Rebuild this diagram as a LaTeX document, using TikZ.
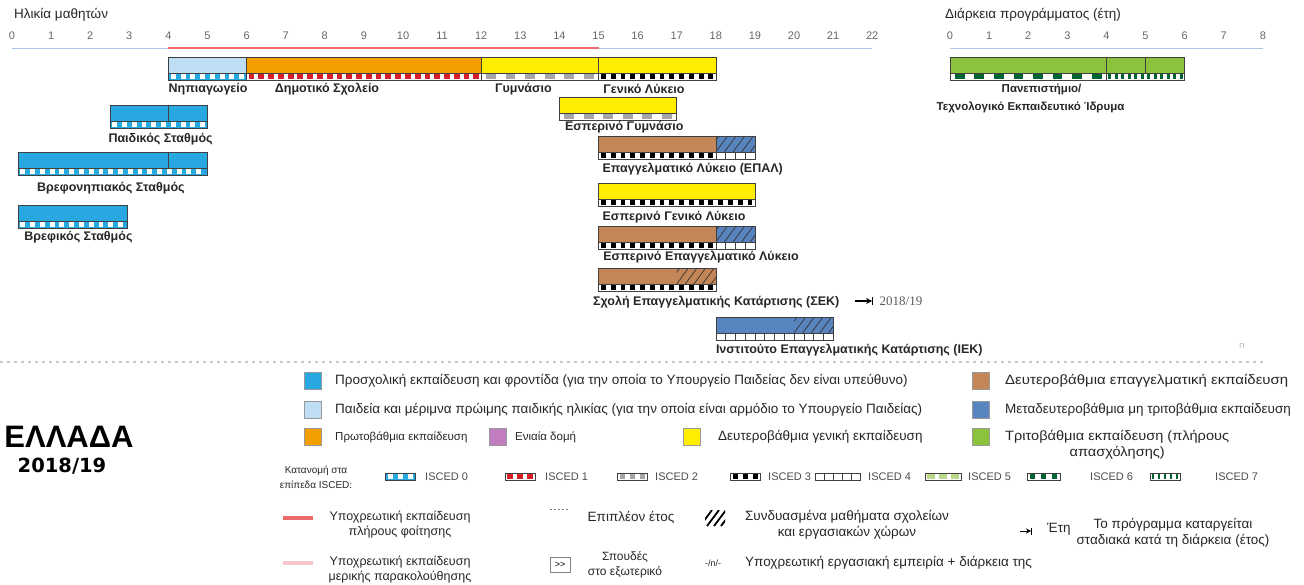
\documentclass[tikz,border=0pt]{standalone}
\usepackage{fontspec}
\setmainfont{Liberation Sans}
\newfontfamily\numfont{Liberation Serif}
\newfontfamily\yearfont{DejaVu Sans}
\usetikzlibrary{arrows.meta}
\definecolor{preblue}{RGB}{40,168,224}
\definecolor{ecblue}{RGB}{190,222,244}
\definecolor{primorange}{RGB}{245,158,0}
\definecolor{secyellow}{RGB}{255,238,0}
\definecolor{vocbrown}{RGB}{196,134,88}
\definecolor{postblue}{RGB}{88,132,192}
\definecolor{tergreen}{RGB}{140,194,60}
\definecolor{unipurple}{RGB}{194,124,192}
\definecolor{isred}{RGB}{214,30,40}
\definecolor{isgreen}{RGB}{0,100,50}
\definecolor{compred}{RGB}{236,106,106}
\definecolor{comppink}{RGB}{246,200,206}
\definecolor{axisblue}{RGB}{170,198,230}
% strip of ISCED blocks: bg, fg, from, to, y, period, fraction
\newcommand\iscedstrip[7]{%
  \fill[#1] (#3,#5) rectangle (#4,#5+7);
  \pgfmathtruncatemacro\nblk{round((#4-#3)/#6)-1}
  \foreach \k in {0,...,\nblk}
    \fill[#2] ({#3+(\k+(1-#7)/2)*#6},#5+1.3) rectangle ++({#7*#6},4.4);
  \draw[barline] (#3,#5) rectangle (#4,#5+7);
}
% hatching: from, to, ytop
\newcommand\hatchbox[3]{%
  \begin{scope}
  \clip (#1,#3) rectangle (#2,#3+16);
  \foreach \k in {-2,...,6}
    \draw[black!80,line width=0.7pt] ({#1+\k*0.22},#3+16) -- ++(0.3,-16);
  \end{scope}
}

\begin{document}
\begin{tikzpicture}[x=1pt,y=-1pt,
  barline/.style={draw=black!75,line width=0.5pt},
  lbl/.style={font=\bfseries\fontsize{12.5}{18}\selectfont,text=black!85,inner sep=0pt,align=center},
  legtxt/.style={font=\fontsize{13.5}{16}\selectfont,text=black!85,inner sep=0pt,align=center},
  smalltxt/.style={legtxt,font=\fontsize{12.5}{15}\selectfont},
  widetxt/.style={legtxt,font=\fontsize{13.5}{16}\selectfont\addfontfeatures{FakeStretch=#1}},
  tick/.style={font=\fontsize{11}{12}\selectfont,text=black!60,inner sep=0pt},
  isctxt/.style={font=\fontsize{11}{12}\selectfont,text=black!70,inner sep=0pt,anchor=west},
  swatch/.style={draw=black!40,line width=0.4pt,minimum size=17pt,inner sep=0pt}]
\useasboundingbox (0,0) rectangle (1304,585);

% age of pupils
\node[legtxt,anchor=west] (agettl) at (14,15) {Ηλικία μαθητών};
\begin{scope}[xshift=12pt,x=39.1pt]
\foreach \a in {0,...,22} \node[tick] (age\a) at (\a,36) {\a};
\draw[axisblue,line width=1pt] (0,49) -- (22,49);
\draw[compred,line width=2.8pt] (4,48) -- (15,48);

% main row
\fill[ecblue] (4,57) rectangle (6,73);
\fill[primorange] (6,57) rectangle (12,73);
\fill[secyellow] (12,57) rectangle (18,73);
\draw[barline] (4,57) rectangle (18,73) (6,57) -- (6,73) (12,57) -- (12,73) (15,57) -- (15,73);
\iscedstrip{preblue}{white}{4}{6}{73}{0.25}{0.5}
\iscedstrip{white}{isred}{6}{12}{73}{0.25}{0.6}
\iscedstrip{white}{black!35}{12}{15}{73}{0.5}{0.5}
\iscedstrip{white}{black}{15}{18}{73}{0.25}{0.5}
\node[lbl,anchor=west] (nip) at (4,89) {Νηπιαγωγείο};
\node[lbl,anchor=west] (dim) at (6.72,89) {Δημοτικό Σχολείο};
\node[lbl,anchor=west] (gym) at (12.35,89) {Γυμνάσιο};
\node[lbl,anchor=west] (lyk) at (15.12,89) {Γενικό Λύκειο};

% preschool
\fill[preblue] (2.5,105) rectangle (5,121);
\draw[barline] (2.5,105) rectangle (5,121) (4,105) -- (4,121);
\iscedstrip{preblue}{white}{2.5}{5}{121}{0.25}{0.5}
\node[lbl] (paid) at (3.8,139) {Παιδικός Σταθμός};
\fill[preblue] (0.15,152) rectangle (5,168);
\draw[barline] (0.15,152) rectangle (5,168) (4,152) -- (4,168);
\iscedstrip{preblue}{white}{0.15}{5}{168}{0.25}{0.5}
\node[lbl] (vrnip) at (2.53,188) {Βρεφονηπιακός Σταθμός};
\fill[preblue] (0.15,205) rectangle (2.95,221);
\draw[barline] (0.15,205) rectangle (2.95,221);
\iscedstrip{preblue}{white}{0.15}{2.95}{221}{0.25}{0.5}
\node[lbl] (vref) at (1.7,237) {Βρεφικός Σταθμός};

% evening gymnasio
\fill[secyellow] (14,97) rectangle (17,113);
\draw[barline] (14,97) rectangle (17,113);
\iscedstrip{white}{black!35}{14}{17}{113}{0.5}{0.5}
\node[lbl,anchor=west] (egym) at (14.14,127) {Εσπερινό Γυμνάσιο};

% EPAL
\fill[vocbrown] (15,136) rectangle (18,152);
\fill[postblue] (18,136) rectangle (19,152);
\hatchbox{18}{19}{136}
\draw[barline] (15,136) rectangle (19,152) (18,136) -- (18,152);
\iscedstrip{white}{black}{15}{18}{152}{0.25}{0.5}
\iscedstrip{white}{white}{18}{19}{152}{0.25}{0.5}
\foreach \k in {1,2,3} \draw[barline] (18+\k*0.25,152) -- (18+\k*0.25,159);
\node[lbl,anchor=west] (epal) at (15.1,169) {Επαγγελματικό Λύκειο (ΕΠΑΛ)};

% evening lykeio
\fill[secyellow] (15,183) rectangle (19,199);
\draw[barline] (15,183) rectangle (19,199);
\iscedstrip{white}{black}{15}{19}{199}{0.25}{0.5}
\node[lbl,anchor=west] (elyk) at (15.1,217) {Εσπερινό Γενικό Λύκειο};

% evening EPAL
\fill[vocbrown] (15,226) rectangle (18,242);
\fill[postblue] (18,226) rectangle (19,242);
\hatchbox{18}{19}{226}
\draw[barline] (15,226) rectangle (19,242) (18,226) -- (18,242);
\iscedstrip{white}{black}{15}{18}{242}{0.25}{0.5}
\iscedstrip{white}{white}{18}{19}{242}{0.25}{0.5}
\foreach \k in {1,2,3} \draw[barline] (18+\k*0.25,242) -- (18+\k*0.25,249);
\node[lbl,anchor=west] (eepal) at (15.12,257) {Εσπερινό Επαγγελματικό Λύκειο};

% SEK
\fill[vocbrown] (15,268) rectangle (18,284);
\hatchbox{17}{18}{268}
\draw[barline] (15,268) rectangle (18,284);
\iscedstrip{white}{black}{15}{18}{284}{0.25}{0.5}
\node[lbl,anchor=west] (sek) at (14.86,302) {Σχολή Επαγγελματικής Κατάρτισης (ΣΕΚ)};
\coordinate (abol1) at (21.56,301);
\coordinate (abol2) at (22,301);
\draw[-{Stealth[length=6pt,width=6pt]},line width=1.2pt] (abol1) -- (abol2);
\draw[line width=1pt] ([yshift=-4pt]abol2) -- ([yshift=4pt]abol2);
\node[font=\numfont\fontsize{13}{14}\selectfont,text=black!65,anchor=west] (abolyr) at (22.1,301) {2018/19};

% IEK
\fill[postblue] (18,317) rectangle (21,333);
\hatchbox{20}{21}{317}
\draw[barline] (18,317) rectangle (21,333);
\iscedstrip{white}{white}{18}{21}{333}{0.25}{0.5}
\foreach \k in {1,...,11} \draw[barline] (18+\k*0.25,333) -- (18+\k*0.25,340);
\node[lbl,anchor=west] (iek) at (18,350) {Ινστιτούτο Επαγγελματικής Κατάρτισης (ΙΕΚ)};
\end{scope}

% programme duration
\node[legtxt,anchor=west] (durttl) at (945,15) {Διάρκεια προγράμματος (έτη)};
\begin{scope}[xshift=950pt,x=39.1pt]
\foreach \a in {0,...,8} \node[tick] (dur\a) at (\a,36) {\a};
\draw[axisblue,line width=1pt] (0,49) -- (8,49);
\fill[tergreen] (0,57) rectangle (6,73);
\draw[barline] (0,57) rectangle (6,73) (4,57) -- (4,73) (5,57) -- (5,73);
\iscedstrip{white}{isgreen}{0}{4}{73}{0.5}{0.5}
\iscedstrip{white}{isgreen}{4}{6}{73}{0.1667}{0.45}
\node[lbl,font=\bfseries\fontsize{11.5}{18}\selectfont] (uni) at (2.06,98) {\hspace*{22pt}Πανεπιστήμιο/\\Τεχνολογικό Εκπαιδευτικό Ίδρυμα};
\end{scope}
\node[font=\fontsize{7}{8}\selectfont,text=black!35] (mark) at (1242,346) {Π};

\draw[black!22,line width=1.2pt,dash pattern=on 3pt off 4pt] (0,362) -- (1265,362);

% legend
\node[swatch,fill=preblue] (swpre) at (313,381) {};
\node[legtxt,anchor=west] (txpre) at (335,381) {Προσχολική εκπαίδευση και φροντίδα (για την οποία το Υπουργείο Παιδείας δεν είναι υπεύθυνο)};
\node[swatch,fill=ecblue] (swec) at (313,410) {};
\node[legtxt,anchor=west] (txec) at (335,410) {Παιδεία και μέριμνα πρώιμης παιδικής ηλικίας (για την οποία είναι αρμόδιο το Υπουργείο Παιδείας)};
\node[swatch,fill=primorange] (swprim) at (313,437) {};
\node[legtxt,font=\fontsize{11.5}{14}\selectfont,anchor=west] (txprim) at (335,437) {Πρωτοβάθμια εκπαίδευση};
\node[swatch,fill=unipurple] (swuni) at (498,437) {};
\node[legtxt,font=\fontsize{11.5}{14}\selectfont,anchor=west] (txuni) at (515,437) {Ενιαία δομή};
\node[swatch,fill=secyellow] (swsec) at (692,437) {};
\node[legtxt,anchor=west] (txsec) at (718,437) {Δευτεροβάθμια γενική εκπαίδευση};
\node[swatch,fill=vocbrown] (swvoc) at (981,381) {};
\node[widetxt=1.11,anchor=west] (txvoc) at (1005,381) {Δευτεροβάθμια επαγγελματική εκπαίδευση};
\node[swatch,fill=postblue] (swpost) at (981,410) {};
\node[legtxt,anchor=west] (txpost) at (1005,410) {Μεταδευτεροβάθμια μη τριτοβάθμια εκπαίδευση};
\node[swatch,fill=tergreen] (swter) at (981,437) {};
\node[widetxt=1.08,anchor=north west] (txter) at (1005,430) {Τριτοβάθμια εκπαίδευση (πλήρους\\απασχόλησης)};

\node[font=\bfseries\fontsize{31}{31}\selectfont] (country) at (69,437) {ΕΛΛΑΔΑ};
\node[font=\yearfont\bfseries\fontsize{19.5}{20}\selectfont] (year) at (62,466) {2018/19};

% ISCED levels
\node[legtxt,font=\fontsize{10}{15}\selectfont] (isctl) at (316,477) {Κατανομή στα\\επίπεδα ISCED:};
\begin{scope}[shift={(385,473)},x=10pt]
\iscedstrip{preblue}{white}{0}{3}{0}{1}{0.5}
\end{scope}
\node[isctxt] (isc0) at (425,477) {ISCED 0};
\begin{scope}[shift={(505,473)},x=10pt]
\iscedstrip{white}{isred}{0}{3}{0}{1}{0.6}
\end{scope}
\node[isctxt] (isc1) at (545,477) {ISCED 1};
\begin{scope}[shift={(617,473)},x=10pt]
\iscedstrip{white}{black!35}{0}{3}{0}{1}{0.5}
\end{scope}
\node[isctxt] (isc2) at (655,477) {ISCED 2};
\begin{scope}[shift={(730,473)},x=10pt]
\iscedstrip{white}{black}{0}{3}{0}{1}{0.5}
\end{scope}
\node[isctxt] (isc3) at (768,477) {ISCED 3};
\begin{scope}[shift={(815,473)},x=9pt]
\iscedstrip{white}{white}{0}{5}{0}{1}{0.5}
\foreach \k in {1,...,4} \draw[barline] (\k,0) -- (\k,7);
\end{scope}
\node[isctxt] (isc4) at (868,477) {ISCED 4};
\begin{scope}[shift={(925,473)},x=12pt]
\iscedstrip{white}{tergreen!60}{0}{3}{0}{1}{0.6}
\end{scope}
\node[isctxt] (isc5) at (968,477) {ISCED 5};
\begin{scope}[shift={(1027,473)},x=11pt]
\iscedstrip{white}{isgreen}{0}{3}{0}{1}{0.5}
\end{scope}
\node[isctxt] (isc6) at (1090,477) {ISCED 6};
\begin{scope}[shift={(1150,473)},x=6pt]
\iscedstrip{white}{isgreen}{0}{5}{0}{1}{0.45}
\end{scope}
\node[isctxt] (isc7) at (1215,477) {ISCED 7};

% other symbols
\coordinate (fr1) at (283,518);
\coordinate (fr2) at (313,518);
\draw[compred,line width=4pt] (fr1) -- (fr2);
\node[smalltxt] (txfr) at (400,525) {Υποχρεωτική εκπαίδευση\\πλήρους φοίτησης};
\coordinate (pt1) at (283,563);
\coordinate (pt2) at (313,563);
\draw[comppink,line width=4pt] (pt1) -- (pt2);
\node[smalltxt] (txpt) at (400,570) {Υποχρεωτική εκπαίδευση\\μερικής παρακολούθησης};
\coordinate (ex1) at (550,509);
\coordinate (ex2) at (568,509);
\draw[black!50,line width=1pt,dash pattern=on 1.5pt off 2.5pt] (ex1) -- (ex2);
\node[legtxt] (txex) at (631,518) {Επιπλέον έτος};
\begin{scope}
\clip (705,510) rectangle (725,526);
\foreach \k in {0,...,3}
  \draw[black,line width=1.8pt] (700+\k*7,526) -- ++(12,-16);
\end{scope}
\node[legtxt] (txcomb) at (847,525) {Συνδυασμένα μαθήματα σχολείων\\και εργασιακών χώρων};
\coordinate (yr1) at (1020,531);
\coordinate (yr2) at (1031,531);
\draw[-{Stealth[length=5pt,width=5pt]},line width=1pt] (yr1) -- (yr2);
\draw[line width=0.8pt] ([yshift=-3.5pt]yr2) -- ([yshift=3.5pt]yr2);
\node[legtxt,anchor=west] (txyr) at (1047,529) {Έτη};
\node[legtxt] (txabol) at (1173,533) {Το πρόγραμμα καταργείται\\σταδιακά κατά τη διάρκεια (έτος)};
\node[draw=black!50,line width=0.5pt,minimum width=20pt,minimum height=15pt,inner sep=0pt,font=\fontsize{9}{10}\selectfont] (abroad) at (560,565) {>{}>};
\node[smalltxt,font=\fontsize{12}{15}\selectfont] (txabroad) at (625,565) {Σπουδές\\στο εξωτερικό};
\node[legtxt,font=\fontsize{9}{10}\selectfont] (wrk) at (713,563) {-/n/-};
\node[legtxt,anchor=west] (txwrk) at (745,563) {Υποχρεωτική εργασιακή εμπειρία + διάρκεια της};
\end{tikzpicture}
\end{document}
